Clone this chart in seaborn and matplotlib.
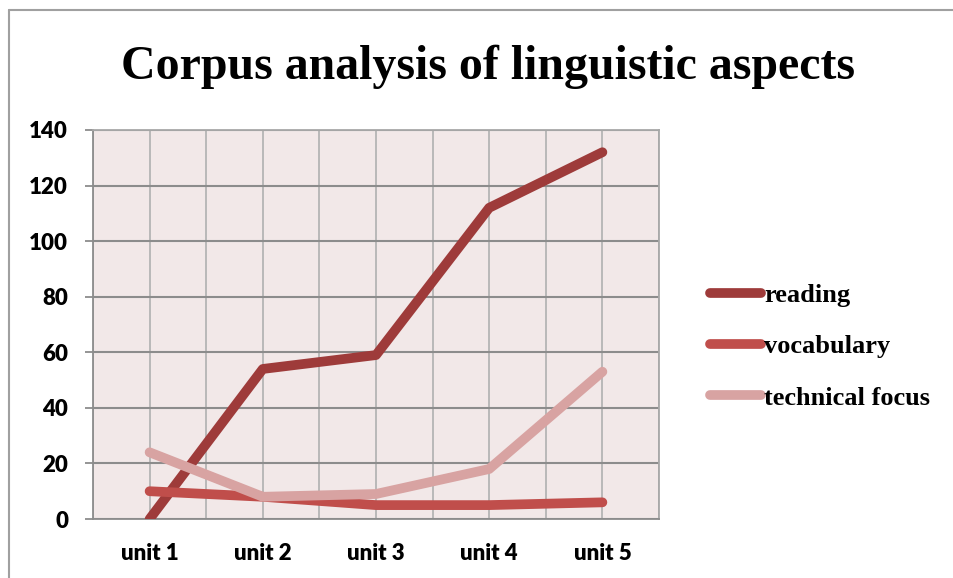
import pandas as pd
import seaborn as sns
import matplotlib.pyplot as plt
from matplotlib.lines import Line2D

units = ['unit 1', 'unit 2', 'unit 3', 'unit 4', 'unit 5']
reading = [0, 54, 59, 112, 132]
vocabulary = [10, 8, 5, 5, 6]
technical_focus = [24, 8, 9, 18, 53]

series = {'reading': reading, 'vocabulary': vocabulary, 'technical focus': technical_focus}
colors = {'reading': '#9E3B3A', 'vocabulary': '#C04E4B', 'technical focus': '#D8A3A2'}

rows = []
for name, vals in series.items():
    for i, v in enumerate(vals):
        rows.append({'pos': i, 'unit': units[i], 'value': v, 'series': name})
df = pd.DataFrame(rows)

sns.set_style('white')
plt.rcParams['font.family'] = ['Lato', 'DejaVu Sans']
plt.rcParams['text.color'] = 'black'
plt.rcParams['xtick.labelcolor'] = 'black'
plt.rcParams['ytick.labelcolor'] = 'black'

fig = plt.figure(figsize=(9.54, 5.78), dpi=100)
ax = fig.add_axes([93 / 954, 1 - 519 / 578, (659 - 93) / 954, (519 - 130) / 578])
ax.set_facecolor('#F2E8E8')

sns.lineplot(data=df, x='pos', y='value', hue='series', palette=colors,
             linewidth=7, solid_capstyle='round', ax=ax, legend=False, zorder=3)

ax.set_xlim(-0.5, 4.5)
ax.set_ylim(0, 140)
ax.set_yticks(range(0, 141, 20))
ax.set_xticks(range(5))
ax.set_xticklabels(units)
ax.set_xticks([i - 0.5 for i in range(6)], minor=True)
ax.set_xlabel('')
ax.set_ylabel('')

# grid: vertical at categories and boundaries, horizontal at y ticks
ax.grid(False)
for x in [i * 0.5 - 0.5 for i in range(11)]:
    ax.axvline(x, color='#B4B4B4', lw=1.3, zorder=1)
for y in range(0, 141, 20):
    ax.axhline(y, color='#8C8C8C', lw=1.5, zorder=1)

for s in ax.spines.values():
    s.set_color('#A8A8A8')
    s.set_linewidth(1.3)
ax.spines['left'].set_color('#8C8C8C')
ax.spines['bottom'].set_color('#8C8C8C')

ax.tick_params(axis='x', which='major', length=0, pad=17, labelsize=16)
ax.tick_params(axis='x', which='minor', length=6, width=1.3, color='#8C8C8C', direction='out')
ax.tick_params(axis='y', length=6, width=1.3, color='#8C8C8C', direction='out', pad=12, labelsize=16)
ax.tick_params(left=True, bottom=True)
for lab in ax.get_xticklabels() + ax.get_yticklabels():
    lab.set_fontweight('heavy')

fig.text(488 / 954, 1 - 67 / 578, 'Corpus analysis of linguistic aspects',
         ha='center', va='center', fontsize=34.5, fontweight='bold', family='Liberation Serif')

handles = [Line2D([], [], color=colors[n], lw=7, solid_capstyle='round') for n in series]
leg = fig.legend(handles, list(series), loc='upper left', bbox_to_anchor=(686 / 954, 1 - 260 / 578),
                 frameon=False, handlelength=1.95, handletextpad=0.1, labelspacing=1.05,
                 prop={'family': 'Liberation Serif', 'weight': 'bold', 'size': 19})

# outer chart border (left and top)
fig.add_artist(Line2D([9 / 954, 9 / 954], [0, 1 - 10 / 578], color='#A0A0A0', lw=1.5))
fig.add_artist(Line2D([9 / 954, 1], [1 - 10 / 578, 1 - 10 / 578], color='#A0A0A0', lw=1.5))

fig.savefig('out.png', dpi=100)
